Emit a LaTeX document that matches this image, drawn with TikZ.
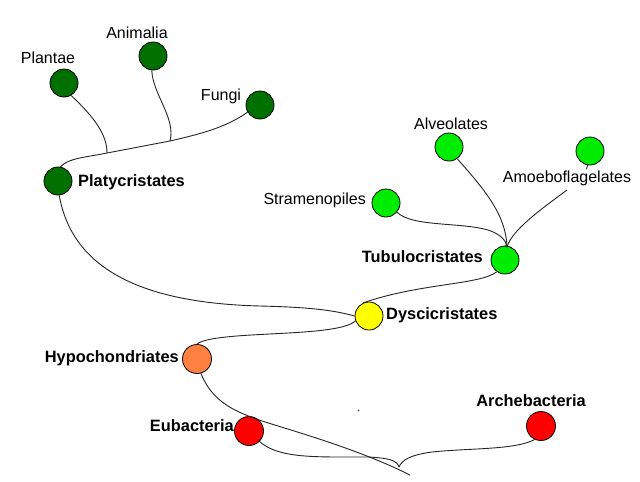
\documentclass[tikz,border=0pt]{standalone}
\usepackage{fontspec}
\setmainfont{Liberation Sans}
\definecolor{dgreen}{RGB}{0,112,0}
\definecolor{lgreen}{RGB}{0,236,0}
\definecolor{yel}{RGB}{255,255,0}
\definecolor{orng}{RGB}{255,128,64}
\definecolor{rd}{RGB}{255,0,0}
\begin{document}
\begin{tikzpicture}[x=1pt,y=-1pt,
  dot/.style={circle,draw=black,line width=0.8pt,minimum size=28pt,inner sep=0pt},
  lab/.style={font=\fontsize{16}{18}\selectfont,inner sep=0pt},
  blab/.style={font=\fontsize{16.4}{18}\selectfont\bfseries,inner sep=0pt},
  br/.style={draw=black!85,line width=0.9pt}]
\useasboundingbox[fill=white] (0,0) rectangle (640,482);
% nodes
\node[dot,fill=dgreen] (pl) at (64,83) {};
\node[dot,fill=dgreen] (an) at (153,56) {};
\node[dot,fill=dgreen] (fu) at (260,105) {};
\node[dot,fill=dgreen] (pc) at (58,181) {};
\node[dot,fill=lgreen] (st) at (386,203) {};
\node[dot,fill=lgreen] (al) at (449,147) {};
\node[dot,fill=lgreen] (am) at (590,151) {};
\node[dot,fill=lgreen] (tu) at (505,260) {};
\node[dot,fill=yel] (dy) at (369,316) {};
\node[dot,fill=orng,minimum width=27pt,minimum height=29pt] (hy) at (197,359) {};
\node[dot,fill=rd,minimum height=29pt] (eu) at (249,431) {};
\node[dot,fill=rd,minimum height=29pt] (ar) at (541,426) {};
% labels
\node[lab] (lpl) at (48,58) {Plantae};
\node[lab] (lan) at (137,33) {Animalia};
\node[lab] (lfu) at (221,96) {Fungi};
\node[blab,anchor=west] (lpc) at (78,182) {Platycristates};
\node[lab,anchor=east] (lst) at (366,200) {Stramenopiles};
\node[lab] (lal) at (451,124) {Alveolates};
\node[lab] (lam) at (567,178) {Amoeboflagelates};
\node[blab,anchor=east] (ltu) at (483,257) {Tubulocristates};
\node[blab,anchor=west] (ldy) at (386,315) {Dyscicristates};
\node[blab,anchor=east] (lhy) at (179,358) {Hypochondriates};
\node[blab,anchor=east] (leu) at (234,426) {Eubacteria};
\node[blab] (lar) at (531,401) {Archebacteria};
% junctions
\coordinate (j1) at (107,153);
\coordinate (j2) at (170,141);
\coordinate (jt) at (507,247);
\coordinate (jr) at (399,467);
\coordinate (rootend) at (410,475);
% platycristates clade
\draw[br] (pl.-60) .. controls (95,118) and (107,135) .. (j1);
\draw[br] (an.-95) .. controls (153,95) and (176,118) .. (j2);
\draw[br] (pc.80) .. controls (68,158) and (88,157) .. (j1) -- (j2)
  .. controls (200,134) and (225,128) .. (fu.-150);
\draw[br] (pc.-85) .. controls (72,268) and (140,303) .. (260,306)
  .. controls (300,307) and (330,309) .. (dy.west);
% tubulocristates clade
\draw[br] (st.-40) .. controls (412,227) and (460,222) .. (488,230)
  .. controls (500,234) and (506,240) .. (jt);
\draw[br] (al.-55) .. controls (485,190) and (506,215) .. (jt);
\draw[br] (567,190) .. controls (540,210) and (512,230) .. (jt);
\draw[br] (am.-100) -- ++(-1,4);
\draw[br] (jt) -- (tu.north);
\draw[br] (tu.-125) .. controls (480,285) and (420,283) .. (dy.115);
% dyscicristates to hypochondriates
\draw[br] (dy.-160) .. controls (340,335) and (260,332) .. (218,338)
  .. controls (203,340) and (198,343) .. (hy.north);
% root
\draw[br] (hy.-75) .. controls (212,400) and (230,410) .. (262,421)
  .. controls (300,433) and (360,450) .. (rootend);
\draw[br] (eu.-45) .. controls (275,455) and (300,457) .. (340,457)
  -- (368,457) .. controls (388,458) and (397,460) .. (jr);
\draw[br] (ar.-115) .. controls (515,450) and (470,448) .. (432,452)
  .. controls (410,455) and (402,460) .. (jr);
\fill[black!70] (358.5,410.5) circle (0.8pt);
\end{tikzpicture}
\end{document}
